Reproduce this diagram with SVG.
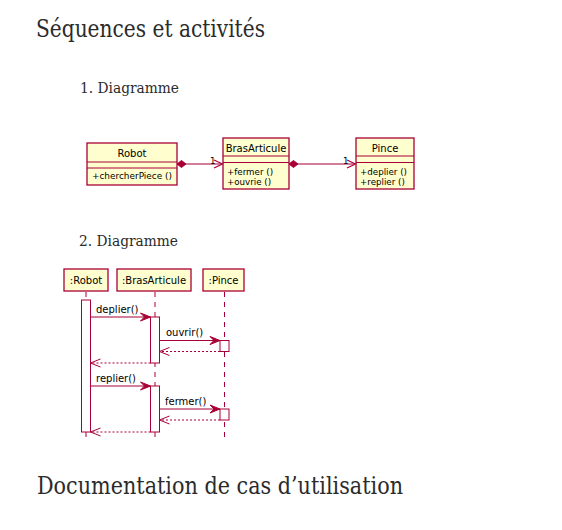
<svg xmlns="http://www.w3.org/2000/svg" width="562" height="530" viewBox="0 0 562 530">
<style>
.h1{font-family:"DejaVu Serif","Liberation Serif",serif;font-size:24px;fill:#2b2b2b}
.h2{font-family:"DejaVu Serif","Liberation Serif",serif;font-size:14.5px;fill:#2b2b2b}
.box{fill:#FEFECE;stroke:#A80036;stroke-width:1.3}
.ln{stroke:#A80036;stroke-width:1.2;fill:none}
.t{font-family:"DejaVu Sans","Liberation Sans",sans-serif;font-size:10px;fill:#000}
.m{font-family:"DejaVu Sans","Liberation Sans",sans-serif;font-size:8.7px;fill:#000}
.life{stroke:#A80036;stroke-width:1;stroke-dasharray:5,5;fill:none}
.act{fill:#fff;stroke:#A80036;stroke-width:1}
.msg{stroke:#A80036;stroke-width:1;fill:none}
.ret{stroke:#A80036;stroke-width:1;stroke-dasharray:2,2;fill:none}
.head{fill:#A80036;stroke:#A80036;stroke-width:1}
</style>
<rect width="562" height="530" fill="#fff"/>
<text class="h1" x="36" y="37" textLength="229" lengthAdjust="spacingAndGlyphs">Séquences et activités</text>
<text class="h2" x="80" y="93" textLength="99" lengthAdjust="spacingAndGlyphs">1. Diagramme</text>
<text class="h2" x="79" y="246" textLength="99" lengthAdjust="spacingAndGlyphs">2. Diagramme</text>
<text class="h1" x="37" y="494" textLength="366" lengthAdjust="spacingAndGlyphs">Documentation de cas d’utilisation</text>

<g id="class-robot">
<rect class="box" x="87" y="143" width="90" height="42"/>
<line class="ln" x1="87" y1="162" x2="177" y2="162"/>
<line class="ln" x1="87" y1="168" x2="177" y2="168"/>
<text class="t" x="132" y="157" text-anchor="middle">Robot</text>
<text class="m" x="92" y="179" textLength="80" lengthAdjust="spacingAndGlyphs">+chercherPiece ()</text>
</g>
<g id="class-brasarticule">
<rect class="box" x="223" y="138" width="66" height="51"/>
<line class="ln" x1="223" y1="156" x2="289" y2="156"/>
<line class="ln" x1="223" y1="162.5" x2="289" y2="162.5"/>
<text class="t" x="256" y="152" text-anchor="middle">BrasArticule</text>
<text class="m" x="227" y="175">+fermer ()</text>
<text class="m" x="227" y="185">+ouvrie ()</text>
</g>
<g id="class-pince">
<rect class="box" x="356" y="138" width="58" height="51"/>
<line class="ln" x1="356" y1="156" x2="414" y2="156"/>
<line class="ln" x1="356" y1="162.5" x2="414" y2="162.5"/>
<text class="t" x="385" y="152" text-anchor="middle">Pince</text>
<text class="m" x="360" y="175">+deplier ()</text>
<text class="m" x="360" y="185">+replier ()</text>
</g>
<g id="class-links">
<line class="ln" x1="186" y1="164" x2="222" y2="164"/>
<polygon class="head" points="177,164 181.5,160.5 186,164 181.5,167.5"/>
<polyline class="ln" points="214,160 222.5,164 214,168"/>
<text class="m" x="210" y="164">1</text>
<line class="ln" x1="298" y1="164" x2="355" y2="164"/>
<polygon class="head" points="289,164 293.5,160.5 298,164 293.5,167.5"/>
<polyline class="ln" points="347,160 355.5,164 347,168"/>
<text class="m" x="343" y="164">1</text>
</g>

<g id="seq-lifelines">
<line class="life" x1="86" y1="292" x2="86" y2="440"/>
<line class="life" x1="155" y1="292" x2="155" y2="440"/>
<line class="life" x1="224.5" y1="292" x2="224.5" y2="440"/>
</g>
<g id="p-robot">
<rect class="box" x="64" y="269" width="44" height="22"/>
<text class="t" x="86" y="284" text-anchor="middle">:Robot</text>
<rect class="act" x="81.5" y="300" width="9" height="132"/>
</g>
<g id="p-brasarticule">
<rect class="box" x="117" y="269" width="74" height="22"/>
<text class="t" x="154" y="284" text-anchor="middle">:BrasArticule</text>
<rect class="act" x="150.5" y="317" width="9" height="46"/>
<rect class="act" x="150.5" y="386" width="9" height="46"/>
</g>
<g id="p-pince">
<rect class="box" x="203" y="269" width="41" height="22"/>
<text class="t" x="223.5" y="284" text-anchor="middle">:Pince</text>
<rect class="act" x="220" y="340.5" width="9" height="11"/>
<rect class="act" x="220" y="409" width="9" height="11"/>
</g>
<g id="seq-messages">
<line class="msg" x1="90.5" y1="317" x2="150" y2="317"/>
<polygon class="head" points="150.5,317 140.5,313 144.5,317 140.5,321"/>
<text class="t" x="96" y="313">deplier()</text>
<line class="msg" x1="159.5" y1="340.5" x2="219.5" y2="340.5"/>
<polygon class="head" points="220,340.5 210,336.5 214,340.5 210,344.5"/>
<text class="t" x="166" y="336">ouvrir()</text>
<line class="ret" x1="220" y1="351.5" x2="160" y2="351.5"/>
<polyline class="msg" points="169.5,347.5 159.5,351.5 169.5,355.5"/>
<line class="ret" x1="150.5" y1="363" x2="91" y2="363"/>
<polyline class="msg" points="100.5,359 90.5,363 100.5,367"/>
<line class="msg" x1="90.5" y1="386" x2="150" y2="386"/>
<polygon class="head" points="150.5,386 140.5,382 144.5,386 140.5,390"/>
<text class="t" x="96" y="382">replier()</text>
<line class="msg" x1="159.5" y1="409" x2="219.5" y2="409"/>
<polygon class="head" points="220,409 210,405 214,409 210,413"/>
<text class="t" x="165" y="405">fermer()</text>
<line class="ret" x1="220" y1="420" x2="160" y2="420"/>
<polyline class="msg" points="169.5,416 159.5,420 169.5,424"/>
<line class="ret" x1="150.5" y1="432" x2="91" y2="432"/>
<polyline class="msg" points="100.5,428 90.5,432 100.5,436"/>
</g>
</svg>
